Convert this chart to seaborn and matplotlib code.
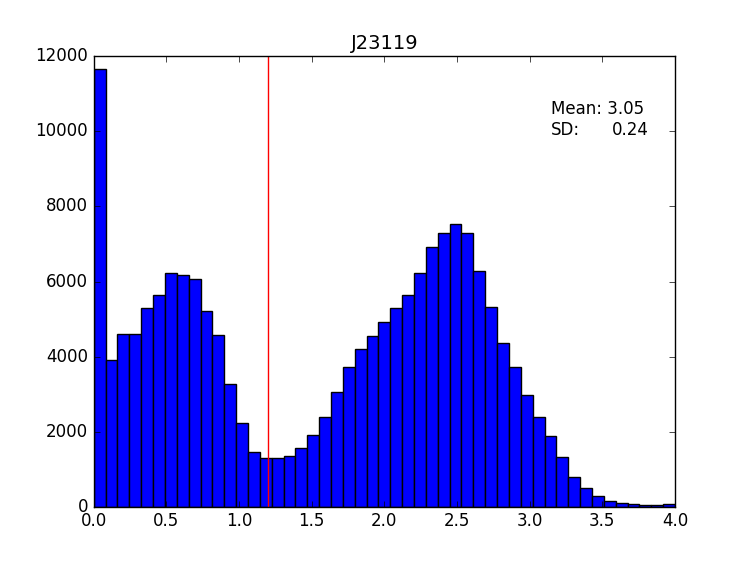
import numpy as np
import pandas as pd
import matplotlib
matplotlib.use("Agg")
import matplotlib.pyplot as plt
import seaborn as sns

# histogram: 49 equal bins between 0 and 4
x_min = 0.0
x_max = 4.0
n_bins = 49
counts = [11650, 3900, 4590, 4590, 5300, 5640, 6220, 6160, 6060, 5220,
          4570, 3260, 2230, 1470, 1290, 1290, 1340, 1560, 1910, 2380,
          3050, 3710, 4210, 4560, 4930, 5290, 5630, 6220, 6930, 7300,
          7530, 7280, 6280, 5330, 4350, 3720, 2980, 2400, 1875, 1325,
          780, 500, 285, 140, 100, 70, 50, 50, 80]
threshold = 1.2
title = "J23119"
mean_val = 3.05
sd_val = 0.24

edges = np.linspace(x_min, x_max, n_bins + 1)
df = pd.DataFrame({"value": (edges[:-1] + edges[1:]) / 2, "count": counts})

plt.style.use("classic")
plt.rcParams["font.family"] = ["DejaVu Sans"]

fig, ax = plt.subplots(figsize=(7.5, 5.63), dpi=100)
fig.patch.set_facecolor("white")

sns.histplot(data=df, x="value", weights="count", bins=n_bins,
             binrange=(x_min, x_max), ax=ax,
             color="#0000ff", edgecolor="black", linewidth=1, alpha=1)
ax.axvline(threshold, color="red", linewidth=1)

ax.set_xlim(x_min, x_max)
ax.set_ylim(0, 12000)
ax.set_xticks(np.arange(0, 4.01, 0.5))
ax.set_yticks(np.arange(0, 12001, 2000))
ax.set_xlabel("")
ax.set_ylabel("")
ax.set_title(title, fontsize=14)

# stats box in the upper right
ax.text(0.786, 0.872, "Mean: %.2f" % mean_val, transform=ax.transAxes, fontsize=12)
ax.text(0.786, 0.825, "SD:", transform=ax.transAxes, fontsize=12)
ax.text(0.955, 0.825, "%.2f" % sd_val, transform=ax.transAxes, fontsize=12, ha="right")

fig.subplots_adjust(left=0.125, right=0.9, bottom=0.1, top=0.9)
plt.savefig("out.png", dpi=100)
